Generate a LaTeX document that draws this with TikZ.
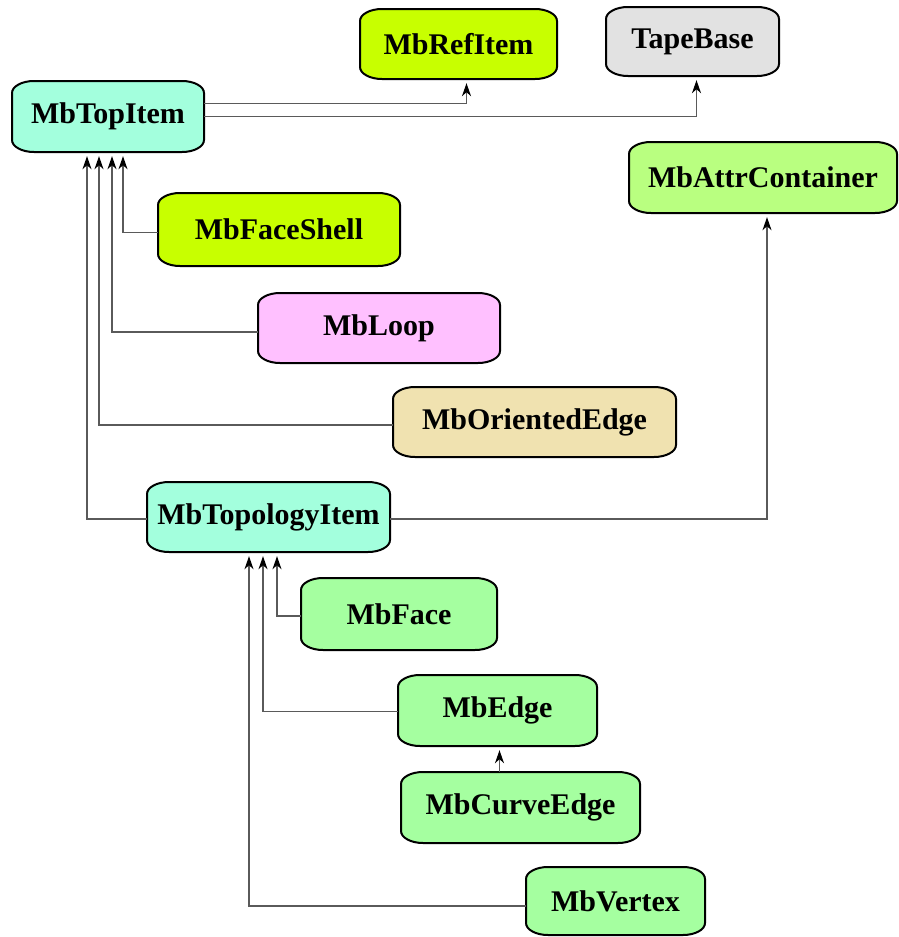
\documentclass[tikz,border=0pt]{standalone}
\usepackage{fontspec}
\setmainfont{Liberation Serif}
\usetikzlibrary{arrows.meta}
\definecolor{cLime}{HTML}{C8FF00}
\definecolor{cGray}{HTML}{E2E2E2}
\definecolor{cAqua}{HTML}{A3FFDD}
\definecolor{cAttr}{HTML}{B9FF80}
\definecolor{cPink}{HTML}{FFC0FF}
\definecolor{cWheat}{HTML}{F0E2B0}
\definecolor{cGreen}{HTML}{A5FFA0}
\definecolor{cLine}{HTML}{5A5A5A}
\tikzset{
  clsframe/.style={draw=black,line width=2pt},
  clstext/.style={font=\fontsize{30}{36}\selectfont\bfseries,text=black,inner sep=0pt,draw=none},
  conn/.style={draw=cLine,line width=1.1pt,-{Stealth[black,length=13pt,width=9pt,inset=4pt]},shorten >=4pt},
}
% name x1 y1 x2 y2 color text
\newcommand\clsbox[7]{%
  \path[clsframe,fill=#6] (#2+22,#3) -- (#4-22,#3)
    arc[start angle=270,end angle=360,x radius=22,y radius=12] -- (#4,#5-12)
    arc[start angle=0,end angle=90,x radius=22,y radius=12] -- (#2+22,#5)
    arc[start angle=90,end angle=180,x radius=22,y radius=12] -- (#2,#3+12)
    arc[start angle=180,end angle=270,x radius=22,y radius=12] -- cycle;
  \node[clstext,minimum width={(#4-#2)*1pt},minimum height={(#5-#3)*1pt}] (#1) at ({(#2+#4)/2},{(#3+#5)/2}) {#7};
}
\begin{document}
\begin{tikzpicture}[x=1pt,y=-1pt]
\useasboundingbox (0,0) rectangle (899,937);
\clsbox{ref}{360}{9}{557}{79}{cLime}{MbRefItem}
\clsbox{tape}{606}{7}{779}{76}{cGray}{TapeBase}
\clsbox{top}{12}{81}{204}{152}{cAqua}{MbTopItem}
\clsbox{attr}{629}{142}{897}{213}{cAttr}{MbAttrContainer}
\clsbox{shell}{158}{193}{400}{266}{cLime}{MbFaceShell}
\clsbox{loop}{258}{293}{500}{363}{cPink}{MbLoop}
\clsbox{oriented}{393}{387}{676}{457}{cWheat}{MbOrientedEdge}
\clsbox{topo}{147}{482}{390}{552}{cAqua}{MbTopologyItem}
\clsbox{face}{301}{578}{497}{650}{cGreen}{MbFace}
\clsbox{edge}{398}{675}{597}{746}{cGreen}{MbEdge}
\clsbox{curve}{401}{772}{640}{843}{cGreen}{MbCurveEdge}
\clsbox{vertex}{526}{867}{705}{935}{cGreen}{MbVertex}

\draw[conn] ([yshift=13pt]top.east) -| ([xshift=8pt]ref.south);
\draw[conn] (top.east) -| ([xshift=4pt]tape.south);
\draw[conn] ([yshift=-3pt]shell.west) -| ([xshift=15pt]top.south);
\draw[conn] ([yshift=-4pt]loop.west) -| ([xshift=4pt]top.south);
\draw[conn] ([yshift=-3pt]oriented.west) -| ([xshift=-9pt]top.south);
\draw[conn] ([yshift=-2pt]topo.west) -| ([xshift=-21pt]top.south);
\draw[conn] ([yshift=-2pt]topo.east) -| ([xshift=4pt]attr.south);
\draw[conn] ([yshift=-2pt]face.west) -| ([xshift=8.5pt]topo.south);
\draw[conn] ([yshift=-1pt]edge.west) -| ([xshift=-5.5pt]topo.south);
\draw[conn] ([yshift=-5pt]vertex.west) -| ([xshift=-19.5pt]topo.south);
\draw[conn] ([xshift=2pt]edge.south |- curve.north) -- ([xshift=2pt]edge.south);
\end{tikzpicture}
\end{document}
